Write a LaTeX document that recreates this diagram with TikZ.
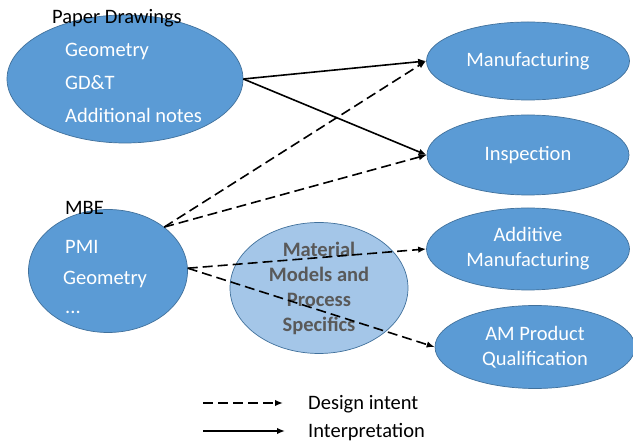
\documentclass[tikz,border=0pt]{standalone}
\usepackage{fontspec}
\setmainfont{Carlito}
\usetikzlibrary{shapes.geometric,arrows.meta}
\definecolor{blobfill}{HTML}{5B9BD5}
\definecolor{blobline}{HTML}{41719C}
\definecolor{palefill}{HTML}{A4C6E8}
\definecolor{mattext}{HTML}{595959}
\begin{document}
\begin{tikzpicture}[x=1pt,y=-1pt,
  every node/.style={font=\fontsize{20.5}{25}\selectfont},
  blob/.style={ellipse, fill=blobfill, draw=blobline, line width=0.7pt,
    text=white, inner sep=0pt, align=center},
  paleblob/.style={blob, fill=palefill, text=mattext, font=\fontsize{20.5}{25}\selectfont\bfseries},
  lbl/.style={anchor=west, inner sep=0pt, text height=13.2pt, text depth=0pt},
  inlbl/.style={lbl, text=white},
  flow/.style={line width=1.6pt, -{Latex[length=8pt,width=6.5pt]}},
  intent/.style={flow, dash pattern=on 10pt off 5pt}]
\useasboundingbox[fill=white] (0,0) rectangle (633,443);

% source ellipses
\node[blob, minimum width=236pt, minimum height=128pt] (paper) at (125,79) {};
\node[blob, minimum width=159pt, minimum height=123pt] (mbe) at (108,271) {};
\node[paleblob, minimum width=178pt, minimum height=119pt] (mat) at (319,288)
  {Material\\Models and\\Process\\Specifics};

% target ellipses
\node[blob, minimum width=203pt, minimum height=78pt] (manu) at (528,61) {Manufacturing};
\node[blob, minimum width=202pt, minimum height=80pt] (insp) at (528,155) {Inspection};
\node[blob, minimum width=203pt, minimum height=82pt] (add) at (528,249) {Additive\\Manufacturing};
\node[blob, minimum width=200pt, minimum height=83pt] (amq) at (535,347) {AM Product\\Qualification};

% labels of the source ellipses
\node[lbl] (paperT) at (52,17) {Paper Drawings};
\node[inlbl] (paperA) at (65,50) {Geometry};
\node[inlbl] (paperB) at (65,83) {GD\&T};
\node[inlbl] (paperC) at (65,116) {Additional notes};
\node[lbl] (mbeT) at (65,208) {MBE};
\node[inlbl] (mbeA) at (65,247) {PMI};
\node[inlbl] (mbeB) at (63,278) {Geometry};
\node[inlbl] (mbeC) at (65,307) {...};

% connectors
\draw[flow] (paper.east) -- (manu.west);
\draw[flow] (paper.east) -- (insp.west);
\draw[intent] (mbe.38) -- (manu.west);
\draw[intent] (mbe.38) -- (insp.west);
\draw[intent] (mbe.2) -- (add.west);
\draw[intent] (mbe.2) -- (amq.west);

% legend
\coordinate (lgA1) at (203,403);
\coordinate (lgA2) at (283,403);
\coordinate (lgB1) at (203,431);
\coordinate (lgB2) at (285,431);
\draw[intent] (lgA1) -- (lgA2);
\draw[flow] (lgB1) -- (lgB2);
\node[lbl] (lgAt) at (308,403) {Design intent};
\node[lbl] (lgBt) at (308,431) {Interpretation};
\end{tikzpicture}
\end{document}
